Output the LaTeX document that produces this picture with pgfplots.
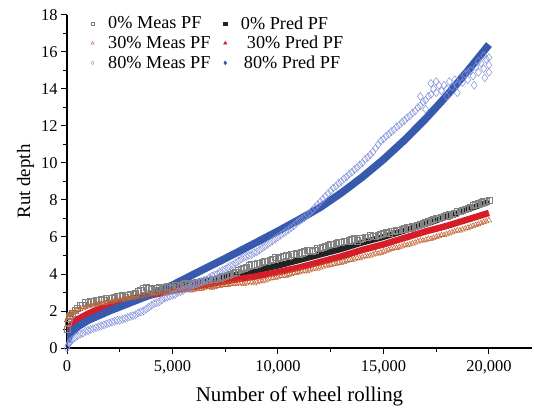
\documentclass[border=0pt]{standalone}
\usepackage{fontspec}
\setmainfont{Liberation Serif}
\usepackage{pgfplots}
\pgfplotsset{compat=1.18}
\definecolor{measgray}{RGB}{130,130,130}
\definecolor{measorange}{RGB}{190,95,45}
\definecolor{measblue}{RGB}{130,145,218}
\definecolor{predblack}{RGB}{35,35,35}
\definecolor{predred}{RGB}{215,30,40}
\definecolor{predblue}{RGB}{55,90,175}
\begin{document}
\begin{tikzpicture}
\begin{axis}[
 scale only axis, width=465bp, height=333bp,
 xmin=0, xmax=22040, ymin=0, ymax=18,
 axis lines*=left,
 axis line style={line width=1.1bp},
 xtick={0,5000,10000,15000,20000},
 ytick={0,2,...,18},
 minor xtick={2500,7500,12500,17500},
 minor ytick={1,3,...,17},
 scaled x ticks=false,
 tick align=outside,
 major tick length=6bp, minor tick length=4bp,
 tick style={line width=1bp, black},
 /pgf/number format/1000 sep={,},
 /pgf/number format/assume math mode=true,
 ticklabel style={font=\fontsize{16.5}{18}\selectfont},
 xticklabel style={yshift=-3bp},
 xlabel={Number of wheel rolling},
 ylabel={Rut depth},
 xlabel style={font=\fontsize{21}{24}\selectfont, yshift=-6bp},
 ylabel style={font=\fontsize{19}{22}\selectfont},
 legend columns=2,
 legend cell align=left,
 legend style={draw=none, fill=none, at={(0.045,1.008)}, anchor=north west,
   font=\fontsize{18.3}{20}\selectfont, row sep=1.5bp,
   /tikz/every odd column/.append style={column sep=12bp},
   /tikz/every even column/.append style={column sep=11bp}},
]
% 0% measured
\addplot[only marks, mark=square, mark size=3.1bp, measgray, mark options={line width=0.5bp}, forget plot] table {
0 1.0
50 1.4
100 1.6
150 1.75
250 1.9
500 2.15
750 2.3
1000 2.45
1250 2.5
1500 2.6
1750 2.55
2000 2.7
2250 2.75
2500 2.8
2750 2.75
3000 2.9
3250 2.95
3500 3.1
3750 3.3
4000 3.15
4250 3.25
4500 3.2
4750 3.35
5000 3.3
5250 3.4
5500 3.45
5750 3.4
6000 3.5
6250 3.55
6500 3.6
6750 3.65
7000 3.7
7250 3.8
7500 3.9
7750 4.0
8000 4.1
8250 4.25
8500 4.35
8750 4.5
9000 4.55
9250 4.65
9500 4.7
9750 4.8
10000 4.85
10250 4.95
10500 4.95
10750 5.05
11000 5.1
11250 5.2
11500 5.3
11750 5.3
12000 5.4
12250 5.5
12500 5.6
12750 5.65
13000 5.7
13250 5.75
13500 5.85
13750 5.8
14000 5.95
14250 6.0
14500 6.05
14750 6.1
15000 6.2
15250 6.2
15500 6.3
15750 6.35
16000 6.45
16250 6.5
16500 6.6
16750 6.7
17000 6.8
17250 6.9
17500 7.0
17750 7.05
18000 7.15
18250 7.25
18500 7.4
18750 7.45
19000 7.55
19250 7.7
19500 7.8
19750 7.9
20000 8.0
125 1.7
375 2.05
625 2.3
875 2.45
1125 2.5
1375 2.55
1625 2.65
1875 2.7
2125 2.7
2375 2.8
2625 2.85
2875 2.85
3125 2.9
3375 3.05
3625 3.2
3875 3.2
4125 3.1
4375 3.3
4625 3.3
4875 3.25
5125 3.4
5375 3.35
5625 3.5
5875 3.45
6125 3.55
6375 3.6
6625 3.65
6875 3.7
7125 3.75
7375 3.85
7625 3.95
7875 4.05
8125 4.2
8375 4.3
8625 4.45
8875 4.5
9125 4.6
9375 4.7
9625 4.75
9875 4.9
10125 4.9
10375 5.0
10625 5.05
10875 5.1
11125 5.15
11375 5.3
11625 5.25
11875 5.4
12125 5.45
12375 5.55
12625 5.6
12875 5.7
13125 5.75
13375 5.8
13625 5.9
13875 5.9
14125 6.0
14375 6.1
14625 6.05
14875 6.15
15125 6.25
15375 6.3
15625 6.35
15875 6.4
16125 6.5
16375 6.55
16625 6.65
16875 6.75
17125 6.85
17375 6.95
17625 7.0
17875 7.1
18125 7.2
18375 7.3
18625 7.4
18875 7.5
19125 7.6
19375 7.75
19625 7.85
19875 7.95
};
% 30% measured
\addplot[only marks, mark=triangle, mark size=3.1bp, measorange, mark options={line width=0.5bp}, forget plot] table {
0 1.5
50 1.65
100 1.75
150 1.85
250 1.9
500 2.05
750 2.15
1000 2.25
1250 2.3
1500 2.4
1750 2.45
2000 2.5
2250 2.55
2500 2.6
2750 2.65
3000 2.7
3250 2.75
3500 2.8
3750 2.85
4000 2.9
4250 2.95
4500 3.0
4750 3.0
5000 3.05
5250 3.1
5500 3.1
5750 3.15
6000 3.15
6250 3.2
6500 3.25
6750 3.3
7000 3.3
7250 3.35
7500 3.4
7750 3.45
8000 3.45
8250 3.5
8500 3.5
8750 3.55
9000 3.55
9250 3.6
9500 3.7
9750 3.8
10000 3.85
10250 3.9
10500 3.95
10750 4.05
11000 4.1
11250 4.15
11500 4.2
11750 4.3
12000 4.35
12250 4.45
12500 4.5
12750 4.55
13000 4.6
13250 4.7
13500 4.75
13750 4.85
14000 4.9
14250 4.95
14500 5.05
14750 5.1
15000 5.2
15250 5.3
15500 5.4
15750 5.45
16000 5.55
16250 5.6
16500 5.7
16750 5.8
17000 5.85
17250 5.9
17500 6.0
17750 6.1
18000 6.15
18250 6.25
18500 6.35
18750 6.4
19000 6.5
19250 6.6
19500 6.7
19750 6.8
20000 6.9
125 1.8
375 2.0
625 2.1
875 2.2
1125 2.3
1375 2.35
1625 2.4
1875 2.5
2125 2.5
2375 2.6
2625 2.6
2875 2.7
3125 2.7
3375 2.8
3625 2.8
3875 2.9
4125 2.9
4375 3.0
4625 2.95
4875 3.05
5125 3.05
5375 3.1
5625 3.15
5875 3.1
6125 3.2
6375 3.2
6625 3.3
6875 3.25
7125 3.35
7375 3.4
7625 3.4
7875 3.45
8125 3.5
8375 3.45
8625 3.55
8875 3.5
9125 3.6
9375 3.65
9625 3.75
9875 3.8
10125 3.9
10375 3.9
10625 4.0
10875 4.05
11125 4.15
11375 4.15
11625 4.25
11875 4.3
12125 4.4
12375 4.45
12625 4.55
12875 4.6
13125 4.65
13375 4.75
13625 4.8
13875 4.85
14125 4.95
14375 5.0
14625 5.1
14875 5.15
15125 5.25
15375 5.35
15625 5.4
15875 5.5
16125 5.55
16375 5.65
16625 5.75
16875 5.8
17125 5.9
17375 5.95
17625 6.05
17875 6.1
18125 6.2
18375 6.3
18625 6.35
18875 6.45
19125 6.55
19375 6.65
19625 6.75
19875 6.85
};
% 80% measured
\addplot[only marks, mark=diamond, mark size=4bp, measblue, mark options={line width=0.5bp}, forget plot] table {
0 0.0
50 0.15
100 0.25
150 0.35
250 0.45
500 0.65
750 0.8
1000 0.95
1250 1.05
1500 1.15
1750 1.25
2000 1.35
2250 1.45
2500 1.5
2750 1.6
3000 1.7
3250 1.8
3500 1.95
3750 2.1
4000 2.3
4250 2.45
4500 2.6
4750 2.75
5000 2.85
5250 3.0
5500 3.1
5750 3.25
6000 3.4
6250 3.5
6500 3.65
6750 3.8
7000 3.95
7250 4.1
7500 4.25
7750 4.45
8000 4.6
8250 4.8
8500 4.95
8750 5.05
9000 5.2
9250 5.4
9500 5.6
9750 5.8
10000 6.0
10250 6.2
10500 6.4
10750 6.6
11000 6.85
11250 7.05
11500 7.3
11750 7.6
12000 7.9
12250 8.2
12500 8.5
12750 8.75
13000 9.0
13250 9.25
13500 9.5
13750 9.75
14000 10.0
14250 10.3
14500 10.6
14750 11.0
15000 11.3
15250 11.55
15500 11.8
15750 12.05
16000 12.3
16250 12.55
16500 12.8
16750 13.1
17000 13.4
17250 13.7
17500 13.8
17750 13.9
18000 14.0
18250 14.1
18500 14.2
18750 14.35
19000 14.5
19250 14.7
19500 14.9
19750 15.1
20000 15.3
125 0.3
375 0.55
625 0.75
875 0.9
1125 1.0
1375 1.1
1625 1.2
1875 1.3
2125 1.4
2375 1.5
2625 1.55
2875 1.65
3125 1.75
3375 1.9
3625 2.0
3875 2.2
4125 2.4
4375 2.5
4625 2.7
4875 2.8
5125 2.9
5375 3.05
5625 3.2
5875 3.3
6125 3.45
6375 3.6
6625 3.7
6875 3.9
7125 4.0
7375 4.2
7625 4.35
7875 4.5
8125 4.7
8375 4.9
8625 5.0
8875 5.15
9125 5.3
9375 5.5
9625 5.7
9875 5.9
10125 6.1
10375 6.3
10625 6.5
10875 6.75
11125 6.95
11375 7.2
11625 7.45
11875 7.75
12125 8.05
12375 8.35
12625 8.65
12875 8.9
13125 9.15
13375 9.4
13625 9.65
13875 9.9
14125 10.2
14375 10.45
14625 10.8
14875 11.2
15125 11.45
15375 11.7
15625 11.95
15875 12.2
16125 12.45
16375 12.7
16625 13.0
16875 13.3
17125 13.6
17375 14.0
17625 14.2
17875 14.2
18125 14.4
18375 14.5
18625 14.6
18875 14.8
19125 15.0
19375 15.2
19625 15.4
19875 15.6
16750 13.6
17000 12.9
17250 14.3
17500 14.4
18000 13.6
18500 13.8
19000 14.9
19300 14.2
19500 15.5
19750 15.8
19800 14.6
20000 14.9
20000 15.7
};
% 0% predicted
\addplot[predblack, line width=6bp, forget plot] table {
0 0.8
100 1.1
250 1.3
500 1.55
1000 1.85
1500 2.1
2000 2.3
3000 2.65
4000 2.9
5000 3.15
6000 3.45
7000 3.7
8000 3.95
9000 4.2
10000 4.45
11000 4.75
12000 5.05
13000 5.35
14000 5.7
15000 6.0
16000 6.35
17000 6.7
18000 7.1
19000 7.5
20000 7.9
};
% 30% predicted
\addplot[predred, line width=6.5bp, forget plot] table {
0 0.8
100 1.1
250 1.3
500 1.55
1000 1.85
1500 2.1
2000 2.3
3000 2.6
4000 2.85
5000 3.1
6000 3.3
7000 3.5
8000 3.7
9000 3.88
10000 4.1
11000 4.35
12000 4.65
13000 4.95
14000 5.3
15000 5.6
16000 5.95
17000 6.3
18000 6.6
19000 6.95
20000 7.3
};
% 80% predicted
\addplot[predblue, line width=7.5bp, forget plot] table {
0 0.35
100 0.65
250 0.9
500 1.15
1000 1.5
1500 1.75
2000 2.0
3000 2.45
4000 2.9
5000 3.4
6000 3.98
7000 4.55
8000 5.13
9000 5.72
10000 6.32
11000 6.94
12000 7.6
13000 8.38
14000 9.24
15000 10.19
16000 11.24
17000 12.39
18000 13.64
19000 14.99
20000 16.4
};
\addlegendimage{only marks, mark=square, mark size=1.4bp, measgray}
\addlegendentry{0\% Meas PF}
\addlegendimage{only marks, mark=square*, mark size=1.6bp, predblack}
\addlegendentry{0\% Pred PF}
\addlegendimage{only marks, mark=triangle, mark size=1.8bp, measorange}
\addlegendentry{30\% Meas PF}
\addlegendimage{only marks, mark=triangle*, mark size=2bp, predred}
\addlegendentry{\hspace{6bp}30\% Pred PF}
\addlegendimage{only marks, mark=diamond, mark size=1.8bp, measblue}
\addlegendentry{80\% Meas PF}
\addlegendimage{only marks, mark=diamond*, mark size=2bp, predblue}
\addlegendentry{\hspace{3bp}80\% Pred PF}
\end{axis}
\pgfresetboundingbox
\path (-67bp,-62bp) rectangle (467bp,348bp);
\end{tikzpicture}
\end{document}
